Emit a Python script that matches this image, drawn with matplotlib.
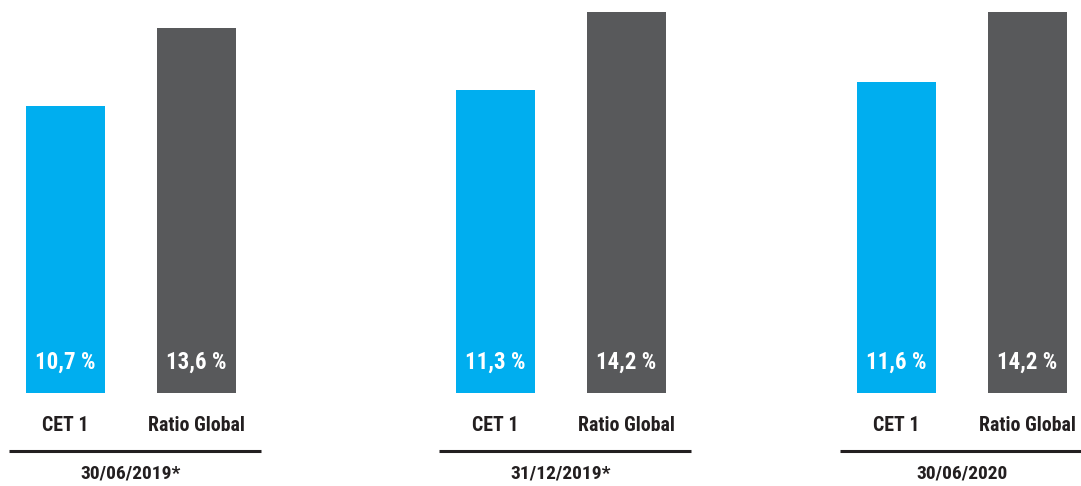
import os
import numpy as np
import matplotlib.pyplot as plt
from matplotlib import transforms
from matplotlib.font_manager import FontProperties

# condensed bold face for all labels
cond_path = '/usr/share/fonts/truetype/roboto/unhinted/RobotoCondensed-Bold.ttf'
if os.path.exists(cond_path):
    def font(size):
        return FontProperties(fname=cond_path, size=size)
else:
    def font(size):
        return FontProperties(family='DejaVu Sans', weight='bold', size=size * 0.8)

# solvency ratios per reporting date
dates = ['30/06/2019*', '31/12/2019*', '30/06/2020']
series = ['CET 1', 'Ratio Global']
cet1 = [10.7, 11.3, 11.6]
ratio_global = [13.6, 14.2, 14.2]

colors = ['#00aeef', '#58595b']
text_dark = '#231f20'

fig = plt.figure(figsize=(10.81, 4.86), dpi=100)

W, H = 1081, 486
group_left = [0, 430, 831]  # left edge of each panel in pixels
panel_w = 262
base_y = 393  # bar baseline, pixels from top

for i, date in enumerate(dates):
    ax = fig.add_axes([group_left[i] / W, (H - base_y) / H, panel_w / W, base_y / H])
    vals = [cet1[i], ratio_global[i]]
    x = np.arange(len(series))
    ax.bar(x, vals, width=0.603, color=colors, zorder=2)
    ax.set_xlim(-0.5, 1.5)
    ax.set_ylim(0, 14.64)
    ax.axis('off')

    for xi, v in zip(x, vals):
        label = f'{v:.1f}'.replace('.', ',') + ' %'
        ax.annotate(label, (xi, 0), xytext=(0, 31), textcoords='offset pixels',
                    ha='center', va='center', color='white',
                    fontproperties=font(16.5))
        ax.annotate(series[xi], (xi, 0), xytext=(0, -32), textcoords='offset pixels',
                    ha='center', va='center', color=text_dark,
                    fontproperties=font(14.3), annotation_clip=False)

    trans = transforms.blended_transform_factory(ax.transData, ax.transAxes)
    ax.plot([-0.5 + 9 / 131, -0.5 + 261 / 131], [-58 / base_y] * 2, color=text_dark,
            lw=2.2, transform=trans, clip_on=False, solid_capstyle='butt')
    ax.text(0.5, -80 / base_y, date, transform=trans, ha='center', va='center',
            color=text_dark, fontproperties=font(14))

fig.savefig('out.png', dpi=100)
